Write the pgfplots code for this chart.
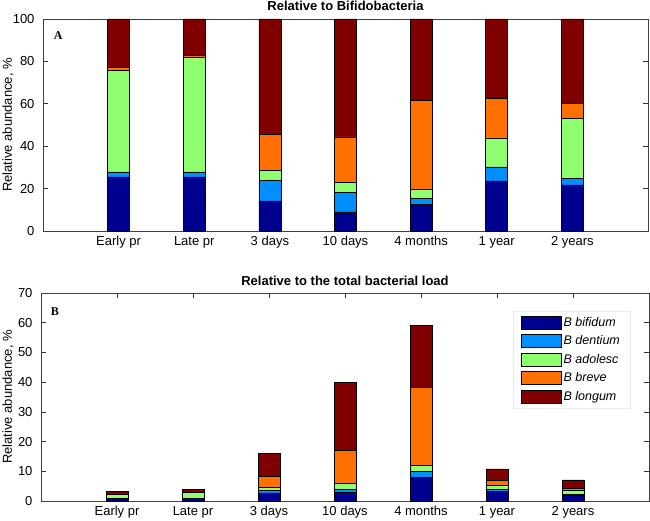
\documentclass[border=0pt]{standalone}
\usepackage{fontspec}
\setmainfont{Liberation Sans}
\newfontfamily\serifb{Liberation Serif}
\usepackage{pgfplots}
\pgfplotsset{compat=1.18}
\definecolor{cbif}{RGB}{0,0,143}
\definecolor{cden}{RGB}{0,143,255}
\definecolor{cado}{RGB}{143,255,112}
\definecolor{cbre}{RGB}{255,112,0}
\definecolor{clon}{RGB}{128,0,0}
\pgfplotsset{
  mystyle/.style={
    scale only axis,
    ybar stacked,
    bar width=22pt,
    xmin=0, xmax=8,
    xtick={1,2,3,4,5,6,7},
    xticklabels={Early pr, Late pr, 3 days, 10 days, 4 months, 1 year, 2 years},
    tick align=inside,
    major tick length=5pt,
    axis line style={black!75, line width=0.8pt},
    tick style={black!80, line width=0.6pt},
    ticklabel style={font=\fontsize{13}{15}\selectfont},
    yticklabel style={xshift=-5pt},
    xticklabel style={yshift=-2pt},
    /pgf/number format/assume math mode=true,
    ylabel={Relative abundance, \%},
    ylabel style={font=\fontsize{13}{15}\selectfont, at={(rel axis cs:0,0.5)}, anchor=center},
    title style={font=\bfseries\fontsize{13}{15}\selectfont, at={(rel axis cs:0.5,1)}, anchor=base},
    every axis plot/.append style={draw=black, line width=0.7pt},
    clip=false,
  }
}
\begin{document}
\begin{tikzpicture}
\useasboundingbox (0,0) rectangle (650pt,520pt);
% Top panel
\begin{axis}[mystyle,
  at={(43pt,289pt)}, anchor=south west,
  width=605pt, height=212pt,
  ymin=0, ymax=100, ytick={0,20,40,60,80,100},
  title={Relative to Bifidobacteria},
  title style={yshift=2pt},
  ylabel style={yshift=35pt},
]
\addplot[fill=cbif] coordinates {(1,25.5) (2,25.5) (3,14.2) (4,9.0) (5,12.4) (6,23.6) (7,21.7)};
\addplot[fill=cden] coordinates {(1,2.4) (2,2.4) (3,9.6) (4,9.0) (5,2.9) (6,6.6) (7,3.0)};
\addplot[fill=cado] coordinates {(1,47.7) (2,54.0) (3,4.7) (4,4.8) (5,4.4) (6,13.7) (7,28.5)};
\addplot[fill=cbre] coordinates {(1,1.4) (2,1.1) (3,16.9) (4,21.6) (5,41.7) (6,18.5) (7,6.8)};
\addplot[fill=clon] coordinates {(1,23.0) (2,17.0) (3,54.6) (4,55.6) (5,38.6) (6,37.6) (7,40.0)};
\node[font=\serifb\bfseries\fontsize{12}{14}\selectfont] at (rel axis cs:0.025,0.92) {A};
\end{axis}
% Bottom panel
\begin{axis}[mystyle,
  at={(41pt,19pt)}, anchor=south west,
  width=608pt, height=208pt,
  ymin=0, ymax=70, ytick={0,10,20,30,40,50,60,70},
  title={Relative to the total bacterial load},
  title style={yshift=2pt},
  ylabel style={yshift=33pt},
  legend cell align=left,
  legend image code/.code={\draw[#1, draw=black, line width=0.6pt] (0pt,-6.5pt) rectangle (40pt,6.5pt);},
  legend style={at={(rel axis cs:0.776,0.9135)}, anchor=north west, draw=black!8,
    font=\itshape\fontsize{12.5}{14}\selectfont, row sep=4pt, inner xsep=8pt, inner ysep=4pt,
    /tikz/every even column/.append style={column sep=5pt}},
]
\addplot[fill=cbif] coordinates {(1,0.9) (2,0.9) (3,2.7) (4,2.8) (5,7.8) (6,3.1) (7,1.8)};
\addplot[fill=cden] coordinates {(1,0.1) (2,0.1) (3,0.9) (4,1.0) (5,2.2) (6,0.7) (7,0.4)};
\addplot[fill=cado] coordinates {(1,1.3) (2,1.8) (3,1.1) (4,2.0) (5,1.9) (6,1.4) (7,1.5)};
\addplot[fill=cbre] coordinates {(1,0.05) (2,0.1) (3,3.6) (4,11.2) (5,26.3) (6,1.7) (7,0.6)};
\addplot[fill=clon] coordinates {(1,0.75) (2,0.9) (3,7.6) (4,23.0) (5,20.8) (6,3.9) (7,2.8)};
\legend{B bifidum, B dentium, B adolesc, B breve, B longum}
\node[font=\serifb\bfseries\fontsize{12}{14}\selectfont] at (rel axis cs:0.023,0.909) {B};
\end{axis}
\end{tikzpicture}
\end{document}
